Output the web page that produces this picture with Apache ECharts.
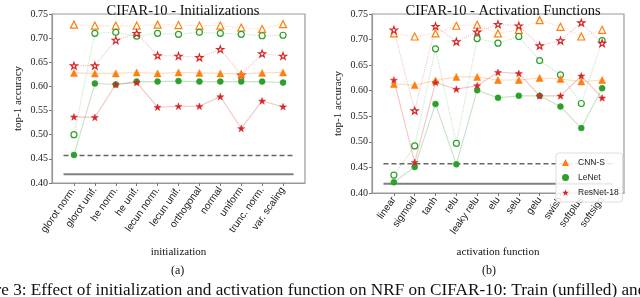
<!DOCTYPE html>
<html>
<head>
<meta charset="utf-8">
<script src="https://cdn.jsdelivr.net/npm/echarts@6/dist/echarts.min.js"></script>
<style>html,body{margin:0;padding:0;background:#fff}#c{width:640px;height:297px}</style>
</head>
<body>
<div id="c"></div>
<script>
const initCats = ['glorot norm.', 'glorot unif.', 'he norm.', 'he unif.', 'lecun norm.', 'lecun unif.', 'orthogonal', 'normal', 'uniform', 'trunc. norm.', 'var. scaling'];
const actCats = ['linear', 'sigmoid', 'tanh', 'relu', 'leaky relu', 'elu', 'selu', 'gelu', 'swish', 'softplus', 'softsign'];
const yTicks = [0.40, 0.45, 0.50, 0.55, 0.60, 0.65, 0.70, 0.75];

const cnnsTrainInit = [0.728, 0.726, 0.726, 0.726, 0.728, 0.727, 0.726, 0.726, 0.722, 0.719, 0.729];
const cnnsTestInit = [0.628, 0.627, 0.627, 0.629, 0.627, 0.629, 0.628, 0.627, 0.626, 0.628, 0.629];
const lenetTrainInit = [0.500, 0.710, 0.712, 0.704, 0.710, 0.708, 0.712, 0.710, 0.708, 0.705, 0.706];
const lenetTestInit = [0.458, 0.606, 0.604, 0.610, 0.610, 0.611, 0.610, 0.610, 0.610, 0.610, 0.608];
const resnetTrainInit = [0.643, 0.643, 0.696, 0.710, 0.664, 0.663, 0.660, 0.677, 0.624, 0.668, 0.663];
const resnetTestInit = [0.537, 0.536, 0.604, 0.608, 0.557, 0.559, 0.559, 0.579, 0.513, 0.570, 0.558];

const cnnsTrainAct = [0.712, 0.706, 0.712, 0.727, 0.729, 0.712, 0.719, 0.738, 0.725, 0.706, 0.719];
const cnnsTestAct = [0.613, 0.611, 0.620, 0.627, 0.627, 0.621, 0.621, 0.625, 0.623, 0.618, 0.621];
const lenetTrainAct = [0.435, 0.492, 0.682, 0.497, 0.702, 0.693, 0.706, 0.659, 0.631, 0.575, 0.698];
const lenetTestAct = [0.421, 0.451, 0.574, 0.456, 0.601, 0.586, 0.590, 0.590, 0.569, 0.527, 0.605];
const resnetTrainAct = [0.719, 0.561, 0.726, 0.696, 0.715, 0.730, 0.727, 0.688, 0.698, 0.733, 0.693];
const resnetTestAct = [0.621, 0.460, 0.616, 0.603, 0.610, 0.636, 0.634, 0.590, 0.590, 0.629, 0.586];

const dashedRef = 0.457;
const solidRef = 0.418;

const C_ORANGE = '#ff7f0e', C_GREEN = '#2ca02c', C_RED = '#d62728';
const STAR = 'path://M0,-10 L2.35,-3.24 L9.51,-3.09 L3.8,1.24 L5.88,8.09 L0,4 L-5.88,8.09 L-3.8,1.24 L-9.51,-3.09 L-2.35,-3.24 Z';
const SERIF = '"Liberation Serif", "DejaVu Serif", serif';
const SANS = '"Liberation Sans", "DejaVu Sans", sans-serif';

function pts(arr) { return arr.map((v, i) => [i, v]); }
function fade(hex, a) {
  const r = parseInt(hex.slice(1, 3), 16), g = parseInt(hex.slice(3, 5), 16), b = parseInt(hex.slice(5, 7), 16);
  return `rgba(${r},${g},${b},${a})`;
}
function modelSeries(name, vals, color, symbol, size, train, idx) {
  return {
    name: train ? name + ' train' : name,
    type: 'line', xAxisIndex: idx, yAxisIndex: idx,
    data: pts(vals),
    symbol: symbol, symbolSize: size, symbolKeepAspect: true,
    lineStyle: { color: fade(color, 0.28), width: 1.1, type: train ? 'dotted' : 'solid' },
    itemStyle: train ? { color: '#fff', borderColor: color, borderWidth: 1.2 } : { color: color, borderColor: color, borderWidth: 0.5 },
    z: train ? 3 : 4,
    emphasis: { disabled: true }
  };
}
function refSeries(val, dashed, idx) {
  return {
    name: dashed ? 'ref dashed' + idx : 'ref solid' + idx,
    type: 'line', xAxisIndex: idx, yAxisIndex: idx,
    data: [[-0.5, val], [10.5, val]],
    symbol: 'none',
    lineStyle: dashed ? { color: '#666', width: 1.5, type: [5, 3] } : { color: '#808080', width: 2, type: 'solid' },
    z: 2, silent: true
  };
}
function buildSeries(idx, cn, ct, ln, lt, rn, rt) {
  return [
    refSeries(dashedRef, true, idx), refSeries(solidRef, false, idx),
    modelSeries('CNN-S', cn, C_ORANGE, 'triangle', 7, true, idx),
    modelSeries('LeNet', ln, C_GREEN, 'circle', 6, true, idx),
    modelSeries('ResNet-18', rn, C_RED, STAR, 7, true, idx),
    modelSeries('CNN-S', ct, C_ORANGE, 'triangle', 7, false, idx),
    modelSeries('LeNet', lt, C_GREEN, 'circle', 6, false, idx),
    modelSeries('ResNet-18', rt, C_RED, STAR, 7, false, idx)
  ];
}
const idxs = initCats.map((_, i) => i);
function xAxisDef(idx, cats, name, gap) {
  return {
    type: 'value', gridIndex: idx, min: -1.05, max: 11.05,
    name: name, nameLocation: 'middle', nameGap: gap,
    nameTextStyle: { fontFamily: SERIF, fontSize: 11, color: '#111' },
    axisLine: { show: true, onZero: false, lineStyle: { color: '#999', width: 1.2 } },
    axisTick: { show: true, customValues: idxs, length: 3, lineStyle: { color: '#777' } },
    axisLabel: { customValues: idxs, formatter: v => cats[Math.round(v)], rotate: 55, fontFamily: SANS, fontSize: 10, color: '#222', margin: 5 },
    splitLine: { show: false }
  };
}
function yAxisDef(idx) {
  return {
    type: 'value', gridIndex: idx, min: yTicks[0], max: yTicks[yTicks.length - 1], interval: 0.05,
    name: 'top-1 accuracy', nameLocation: 'middle', nameRotate: 90, nameGap: 28,
    nameTextStyle: { fontFamily: SERIF, fontSize: 11, color: '#111' },
    axisLine: { show: true, onZero: false, lineStyle: { color: '#999', width: 1.2 } },
    axisTick: { show: true, length: 3, lineStyle: { color: '#777' } },
    axisLabel: { formatter: v => v.toFixed(2), fontFamily: SERIF, fontSize: 10, color: '#222', margin: 4 },
    splitLine: { show: false }
  };
}

const chart = echarts.init(document.getElementById('c'), null, { renderer: 'canvas' });
chart.setOption({
  animation: false,
  backgroundColor: '#fff',
  title: [
    { text: 'CIFAR-10 - Initializations', left: 178, top: -1, textAlign: 'center', textStyle: { fontFamily: SERIF, fontSize: 14.5, fontWeight: 'normal', color: '#111' } },
    { text: 'CIFAR-10 - Activation Functions', left: 498, top: -1, textAlign: 'center', textStyle: { fontFamily: SERIF, fontSize: 14.5, fontWeight: 'normal', color: '#111' } }
  ],
  grid: [
    { left: 52, top: 14, width: 253, height: 169, show: true, borderColor: '#999', borderWidth: 1.2, backgroundColor: 'transparent' },
    { left: 372, top: 14, width: 252, height: 179, show: true, borderColor: '#999', borderWidth: 1.2, backgroundColor: 'transparent' }
  ],
  xAxis: [xAxisDef(0, initCats, 'initialization', 64), xAxisDef(1, actCats, 'activation function', 54)],
  yAxis: [yAxisDef(0), yAxisDef(1)],
  legend: {
    orient: 'vertical', left: 556, top: 153,
    data: [{ name: 'CNN-S', icon: 'triangle' }, { name: 'LeNet', icon: 'circle' }, { name: 'ResNet-18', icon: STAR }],
    itemWidth: 7, itemHeight: 7, itemGap: 6, itemStyle: { borderWidth: 0 },
    textStyle: { fontFamily: SANS, fontSize: 8.5, color: '#222', padding: [0, 0, 0, 4] },
    backgroundColor: 'rgba(255,255,255,0.85)', borderColor: '#ddd', borderWidth: 1, borderRadius: 3,
    padding: [5, 4, 5, 6], selectedMode: false
  },
  graphic: [
    { type: 'text', left: 171, top: 265, style: { text: '(a)', font: '12px ' + SERIF, fill: '#111' } },
    { type: 'text', left: 482, top: 265, style: { text: '(b)', font: '12px ' + SERIF, fill: '#111' } },
    { type: 'text', x: -36, y: 282, style: { text: 'Figure 3: Effect of initialization and activation function on NRF on CIFAR-10: Train (unfilled) and test (filled) accuracy.', font: '17.2px ' + SERIF, fill: '#111' } }
  ],
  series: [].concat(
    buildSeries(0, cnnsTrainInit, cnnsTestInit, lenetTrainInit, lenetTestInit, resnetTrainInit, resnetTestInit),
    buildSeries(1, cnnsTrainAct, cnnsTestAct, lenetTrainAct, lenetTestAct, resnetTrainAct, resnetTestAct)
  )
});
</script>
</body>
</html>
